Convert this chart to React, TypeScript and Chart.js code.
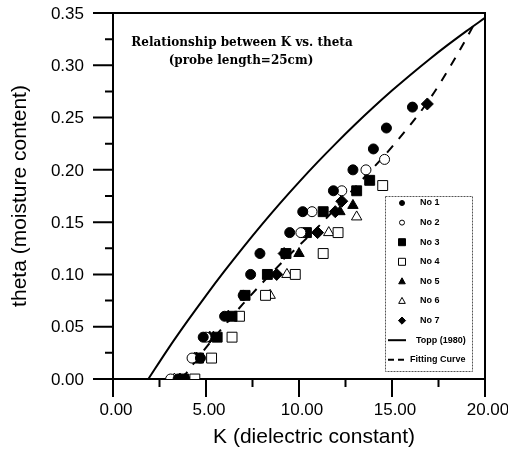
import React, { useEffect, useRef } from "react";
import { Chart, registerables } from "chart.js";

Chart.register(...registerables);

// ---------- text ----------
const TITLE_LINES = ["Relationship between K vs. theta", "(probe length=25cm)"];
const X_TITLE = "K (dielectric constant)";
const Y_TITLE = "theta (moisture content)";
const X_TICKS = [0, 5, 10, 15, 20];
const X_MINOR = [2.5, 7.5, 12.5, 17.5];
const Y_TICKS = [0, 0.05, 0.1, 0.15, 0.2, 0.25, 0.3, 0.35];
const Y_MINOR = [0.025, 0.075, 0.125, 0.175, 0.225, 0.275, 0.325];
const SERIES_NAMES = ["No 1", "No 2", "No 3", "No 4", "No 5", "No 6", "No 7"];
const LINE_NAMES = ["Topp (1980)", "Fitting Curve"];

// ---------- data (K, theta) ----------
const no1K = [3.5, 4.7, 4.85, 6.0, 7.0, 7.4, 7.9, 9.5, 10.2, 11.85, 12.9, 14.0, 14.7, 16.1];
const no1Theta = [0, 0.02, 0.04, 0.06, 0.08, 0.1, 0.12, 0.14, 0.16, 0.18, 0.2, 0.22, 0.24, 0.26];

const no2K = [3.1, 4.25, 5.0, 10.1, 10.7, 12.3, 13.6, 14.6];
const no2Theta = [0, 0.02, 0.04, 0.14, 0.16, 0.18, 0.2, 0.21];

const no3K = [3.8, 4.6, 5.6, 6.4, 7.1, 8.3, 9.3, 10.4, 11.3, 13.1, 13.8];
const no3Theta = [0, 0.02, 0.04, 0.06, 0.08, 0.1, 0.12, 0.14, 0.16, 0.18, 0.19];

const no4K = [4.4, 5.3, 6.4, 6.8, 8.2, 9.8, 11.3, 12.1, 14.5];
const no4Theta = [0, 0.02, 0.04, 0.06, 0.08, 0.1, 0.12, 0.14, 0.185];

const no5K = [3.6, 4.5, 5.4, 10.0, 12.2, 12.9];
const no5Theta = [0, 0.02, 0.04, 0.12, 0.16, 0.166];

const no6K = [3.3, 4.4, 8.45, 9.35, 11.6, 13.1];
const no6Theta = [0, 0.02, 0.08, 0.1, 0.14, 0.155];

const no7K = [3.9, 5.2, 6.2, 8.8, 9.2, 11.0, 11.95, 12.3, 16.9];
const no7Theta = [0, 0.04, 0.06, 0.1, 0.12, 0.14, 0.16, 0.17, 0.263];

const toppK = [1.9, 3, 4, 5, 6, 7, 8, 9, 10, 11, 12, 13, 14, 15, 16, 17, 18, 19, 20];
const toppTheta = [0.0, 0.0298, 0.0553, 0.0798, 0.1033, 0.1259, 0.1476, 0.1684, 0.1883, 0.2074, 0.2256, 0.2431, 0.2598, 0.2758, 0.291, 0.3056, 0.3195, 0.3327, 0.3454];

const fitK = [3.7, 5.0, 7.0, 9.0, 11.0, 13.0, 15.0, 17.0, 18.5, 19.5];
const fitTheta = [0, 0.03, 0.072, 0.11, 0.145, 0.183, 0.222, 0.267, 0.31, 0.342];

const pts = (xs: number[], ys: number[]) => xs.map((x, i) => ({ x, y: ys[i] }));

const SANS = "'Liberation Sans', Arial, sans-serif";

const markerStyles = [
  { pointStyle: "circle", radius: 5, fill: "#000" },
  { pointStyle: "circle", radius: 5, fill: "#fff" },
  { pointStyle: "rect", radius: 7, fill: "#000" },
  { pointStyle: "rect", radius: 7, fill: "#fff" },
  { pointStyle: "triangle", radius: 6, fill: "#000" },
  { pointStyle: "triangle", radius: 6, fill: "#fff" },
  { pointStyle: "rectRot", radius: 6, fill: "#000" },
];

const seriesData = [
  pts(no1K, no1Theta),
  pts(no2K, no2Theta),
  pts(no3K, no3Theta),
  pts(no4K, no4Theta),
  pts(no5K, no5Theta),
  pts(no6K, no6Theta),
  pts(no7K, no7Theta),
];

function drawMarker(ctx: CanvasRenderingContext2D, style: string, r: number, x: number, y: number, fill: string) {
  ctx.beginPath();
  if (style === "circle") {
    ctx.arc(x, y, r, 0, Math.PI * 2);
  } else if (style === "rect") {
    ctx.rect(x - r, y - r, 2 * r, 2 * r);
  } else if (style === "rectRot") {
    ctx.moveTo(x, y - r * 1.2);
    ctx.lineTo(x + r * 1.2, y);
    ctx.lineTo(x, y + r * 1.2);
    ctx.lineTo(x - r * 1.2, y);
    ctx.closePath();
  } else if (style === "triangle") {
    ctx.moveTo(x, y - r * 1.2);
    ctx.lineTo(x + r * 1.1, y + r * 0.8);
    ctx.lineTo(x - r * 1.1, y + r * 0.8);
    ctx.closePath();
  }
  ctx.fillStyle = fill;
  ctx.fill();
  ctx.stroke();
}

const framePlugin = {
  id: "frame",
  beforeDatasetsDraw(chart: any) {
    const { ctx, chartArea: a, scales } = chart;
    const xs = scales.x;
    const ys = scales.y;
    ctx.save();
    ctx.strokeStyle = "#000";
    ctx.lineWidth = 2;
    ctx.strokeRect(a.left, a.top, a.right - a.left, a.bottom - a.top);
    ctx.beginPath();
    Y_TICKS.forEach((v) => {
      const y = ys.getPixelForValue(v);
      ctx.moveTo(a.left - 20, y);
      ctx.lineTo(a.left, y);
    });
    Y_MINOR.forEach((v) => {
      const y = ys.getPixelForValue(v);
      ctx.moveTo(a.left - 8, y);
      ctx.lineTo(a.left, y);
    });
    X_TICKS.forEach((v) => {
      const x = xs.getPixelForValue(v);
      ctx.moveTo(x, a.bottom);
      ctx.lineTo(x, a.bottom + 18);
    });
    X_MINOR.forEach((v) => {
      const x = xs.getPixelForValue(v);
      ctx.moveTo(x, a.bottom);
      ctx.lineTo(x, a.bottom + 8);
    });
    ctx.stroke();

    ctx.fillStyle = "#000";
    ctx.font = `17px ${SANS}`;
    ctx.textAlign = "right";
    ctx.textBaseline = "middle";
    Y_TICKS.forEach((v) => {
      ctx.fillText(v.toFixed(2), a.left - 29, ys.getPixelForValue(v) + 1);
    });
    ctx.textAlign = "center";
    X_TICKS.forEach((v) => {
      ctx.fillText(v.toFixed(2), xs.getPixelForValue(v) + 3, a.bottom + 31);
    });

    ctx.font = `21px ${SANS}`;
    ctx.fillText(X_TITLE, (a.left + a.right) / 2 + 15, a.bottom + 58);
    ctx.save();
    ctx.translate(20, (a.top + a.bottom) / 2);
    ctx.rotate(-Math.PI / 2);
    ctx.fillText(Y_TITLE, 0, 0);
    ctx.restore();

    ctx.font = `bold 12px 'DejaVu Serif', serif`;
    ctx.fillText(TITLE_LINES[0], 242, 43);
    ctx.fillText(TITLE_LINES[1], 241, 61);
    ctx.restore();
  },
  afterDraw(chart: any) {
    const { ctx } = chart;
    const L = 385, T = 196, R = 472, B = 371;
    ctx.save();
    ctx.fillStyle = "#fff";
    ctx.fillRect(L, T, R - L, B - T);
    ctx.strokeStyle = "#555";
    ctx.lineWidth = 1;
    ctx.setLineDash([2, 1]);
    ctx.strokeRect(L + 0.5, T + 0.5, R - L, B - T);
    ctx.setLineDash([]);
    const step = 19.6;
    SERIES_NAMES.forEach((name, i) => {
      const y = 203 + i * step;
      const m = markerStyles[i];
      ctx.strokeStyle = "#000";
      ctx.lineWidth = 1;
      drawMarker(ctx, m.pointStyle, m.radius * 0.5, 402, y, m.fill);
      ctx.fillStyle = "#000";
      ctx.font = `bold 9px ${SANS}`;
      ctx.textAlign = "left";
      ctx.textBaseline = "middle";
      ctx.fillText(name, 420, y);
    });
    const y1 = 203 + 7 * step;
    const y2 = 203 + 8 * step;
    ctx.strokeStyle = "#000";
    ctx.lineWidth = 2;
    ctx.beginPath();
    ctx.moveTo(388, y1);
    ctx.lineTo(406, y1);
    ctx.stroke();
    ctx.setLineDash([6, 4]);
    ctx.beginPath();
    ctx.moveTo(388, y2);
    ctx.lineTo(406, y2);
    ctx.stroke();
    ctx.setLineDash([]);
    ctx.font = `bold 9px ${SANS}`;
    ctx.fillText(LINE_NAMES[0], 416, y1);
    ctx.fillText(LINE_NAMES[1], 410, y2);
    ctx.restore();
  },
};

export default function App() {
  const ref = useRef<HTMLCanvasElement | null>(null);
  useEffect(() => {
    if (!ref.current) return;
    const datasets: any[] = seriesData.map((data, i) => ({
      label: SERIES_NAMES[i],
      data,
      showLine: false,
      pointStyle: markerStyles[i].pointStyle,
      pointRadius: markerStyles[i].radius,
      backgroundColor: markerStyles[i].fill,
      borderColor: "#000",
      borderWidth: 1,
    }));
    datasets.push({
      label: LINE_NAMES[0],
      data: pts(toppK, toppTheta),
      showLine: true,
      pointRadius: 0,
      borderColor: "#000",
      borderWidth: 2,
      cubicInterpolationMode: "monotone",
      fill: false,
    });
    datasets.push({
      label: LINE_NAMES[1],
      data: pts(fitK, fitTheta),
      showLine: true,
      pointRadius: 0,
      borderColor: "#000",
      borderWidth: 2,
      borderDash: [9, 9],
      cubicInterpolationMode: "monotone",
      fill: false,
    });
    const chart = new Chart(ref.current, {
      type: "scatter",
      data: { datasets },
      options: {
        responsive: false,
        animation: false,
        layout: { padding: { left: 113, right: 23, top: 13, bottom: 71 } },
        scales: {
          x: { type: "linear", min: 0, max: 20, display: false },
          y: { type: "linear", min: 0, max: 0.35, display: false },
        },
        plugins: { legend: { display: false }, tooltip: { enabled: false } },
      },
      plugins: [framePlugin],
    } as any);
    return () => chart.destroy();
  }, []);
  return (
    <div style={{ position: "absolute", left: 0, top: 0, width: 508, height: 450, background: "#fff" }}>
      <canvas ref={ref} width={508} height={450} style={{ width: 508, height: 450 }} />
    </div>
  );
}
